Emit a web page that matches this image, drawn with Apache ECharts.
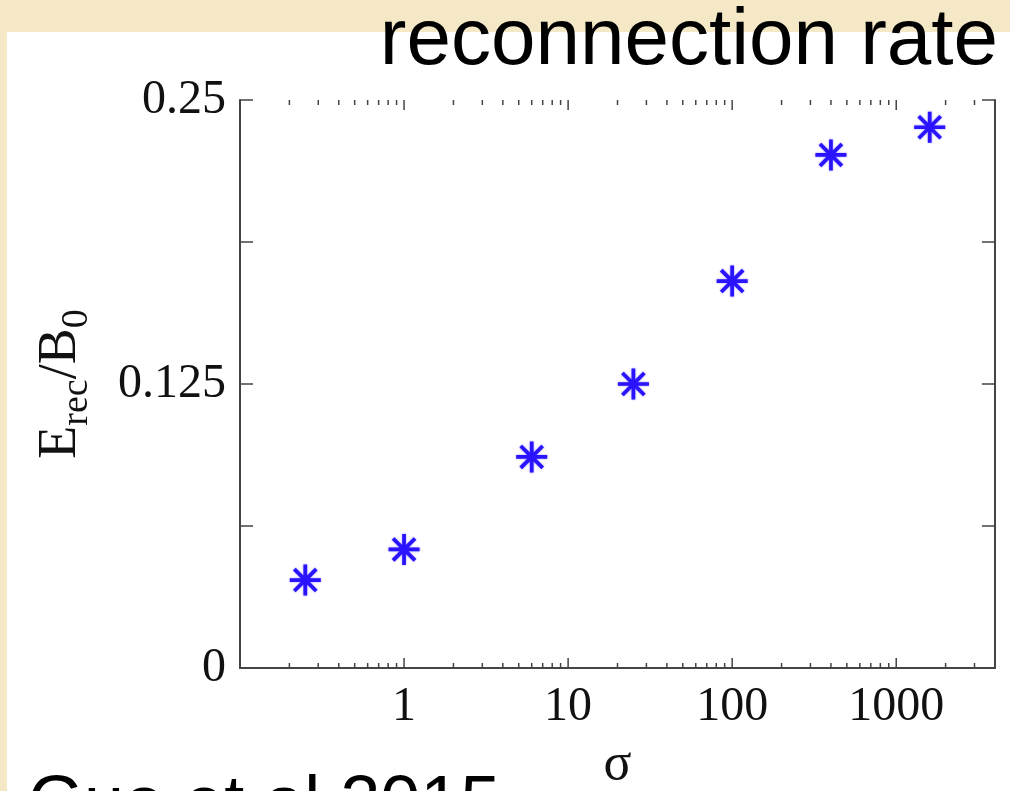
<!DOCTYPE html>
<html>
<head>
<meta charset="utf-8">
<script src="https://cdn.jsdelivr.net/npm/echarts@6/dist/echarts.min.js"></script>
<style>
  html, body { margin: 0; padding: 0; width: 1010px; height: 791px; overflow: hidden; background: #f4e8c7; }
  #panel { position: absolute; left: 7px; top: 32px; right: 0; bottom: 0; background: #ffffff; }
  #chart { position: absolute; left: 0; top: 0; width: 1010px; height: 791px; }
</style>
</head>
<body>
<div id="panel"></div>
<div id="chart"></div>
<script>
// ---- data ----
const sigmaValues = [0.25, 1, 6, 25, 100, 400, 1600];
const rateValues = [0.0387, 0.0522, 0.0929, 0.125, 0.1703, 0.2258, 0.238];
const xTickValues = [1, 10, 100, 1000];
const xTickLabels = ['1', '10', '100', '1000'];
const yTickValues = [0, 0.125, 0.25];
const yTickLabels = ['0', '0.125', '0.25'];
const xMinorTickValues = [0.2, 0.3, 0.4, 0.5, 0.6, 0.7, 0.8, 0.9,
  2, 3, 4, 5, 6, 7, 8, 9,
  20, 30, 40, 50, 60, 70, 80, 90,
  200, 300, 400, 500, 600, 700, 800, 900,
  2000, 3000];
const titleText = 'reconnection rate';
const creditText = 'Guo et al 2015';
const xName = 'σ';

// ---- chart ----
const chart = echarts.init(document.getElementById('chart'), null, { renderer: 'canvas' });
const axisColor = '#444444';
const serif = '"Liberation Serif", "Times New Roman", serif';
const sans = '"Liberation Sans", Helvetica, Arial, sans-serif';

function xLabel(v) {
  const i = xTickValues.findIndex(t => Math.abs(Math.log10(v) - Math.log10(t)) < 1e-6);
  return i >= 0 ? xTickLabels[i] : '';
}
function yLabel(v) {
  const i = yTickValues.findIndex(t => Math.abs(v - t) < 1e-9);
  return i >= 0 ? yTickLabels[i] : '';
}

const starPath = 'path://M44 0L56 0L56 100L44 100Z M0 44L100 44L100 56L0 56Z ' +
  'M18.9 10.4L89.6 81.1L81.1 89.6L10.4 18.9Z M89.6 18.9L18.9 89.6L10.4 81.1L81.1 10.4Z';

const xCommon = {
  type: 'log', logBase: 10, min: 0.1, max: 4000, splitNumber: 5,
  axisLine: { show: true, lineStyle: { color: axisColor, width: 2 } },
  axisTick: { show: false },
  splitLine: { show: false }, minorTick: { show: false }
};
const yCommon = {
  type: 'value', min: 0, max: 0.25, interval: 0.0625,
  axisLine: { show: true, lineStyle: { color: axisColor, width: 2 } },
  axisTick: { show: true, inside: true, length: 13, lineStyle: { color: axisColor, width: 1.5 } },
  splitLine: { show: false }
};

function tickSeries(values, len) {
  return {
    type: 'custom', xAxisIndex: 0, yAxisIndex: 0, silent: true, clip: false,
    data: values.map(v => [v, 0]),
    renderItem: function (params, api) {
      const x = api.coord([api.value(0), 0])[0];
      const cs = params.coordSys;
      const style = { stroke: axisColor, lineWidth: 1.5 };
      return {
        type: 'group',
        children: [
          { type: 'line', shape: { x1: x, y1: cs.y + cs.height, x2: x, y2: cs.y + cs.height - len }, style: style },
          { type: 'line', shape: { x1: x, y1: cs.y, x2: x, y2: cs.y + len }, style: style }
        ]
      };
    },
    z: 3
  };
}

chart.setOption({
  backgroundColor: 'transparent',
  animation: false,
  title: {
    text: titleText, right: 12, top: 2, padding: 0,
    textStyle: { fontFamily: sans, fontSize: 80, fontWeight: 'normal', color: '#000' }
  },
  grid: { left: 240, right: 15, top: 100, bottom: 123, containLabel: false, outerBoundsMode: 'none' },
  xAxis: [
    Object.assign({}, xCommon, {
      position: 'bottom',
      name: xName, nameLocation: 'middle', nameGap: 71,
      nameTextStyle: { fontFamily: serif, fontSize: 52, color: '#111' },
      axisLabel: { show: true, formatter: xLabel, margin: 15, fontFamily: serif, fontSize: 48, color: '#111' }
    }),
    Object.assign({}, xCommon, { position: 'top', axisLabel: { show: false } })
  ],
  yAxis: [
    Object.assign({}, yCommon, {
      position: 'left',
      name: '{m|E}{s|rec}{m|/B}{s|0}', nameLocation: 'middle', nameRotate: 90, nameGap: 144,
      nameTextStyle: {
        rich: {
          m: { fontFamily: serif, fontSize: 54, color: '#111', verticalAlign: 'top', lineHeight: 62 },
          s: { fontFamily: serif, fontSize: 38, color: '#111', verticalAlign: 'bottom', lineHeight: 62 }
        }
      },
      axisLabel: { show: true, formatter: yLabel, margin: 14, fontFamily: serif, fontSize: 48, color: '#111' }
    }),
    Object.assign({}, yCommon, { position: 'right', axisLabel: { show: false } })
  ],
  series: [
    {
      type: 'scatter', xAxisIndex: 0, yAxisIndex: 0,
      symbol: starPath, symbolSize: 31,
      itemStyle: { color: '#2a14ff', opacity: 1, shadowBlur: 2, shadowColor: 'rgba(60,40,255,0.6)' },
      data: sigmaValues.map((s, i) => [s, rateValues[i]]),
      z: 5
    },
    tickSeries(xTickValues, 10),
    tickSeries(xMinorTickValues, 5)
  ],
  graphic: [
    {
      type: 'text', left: 28, top: 770, z: 10,
      style: { text: creditText, fontFamily: sans, fontSize: 72, fill: '#000' }
    }
  ]
});
</script>
</body>
</html>
